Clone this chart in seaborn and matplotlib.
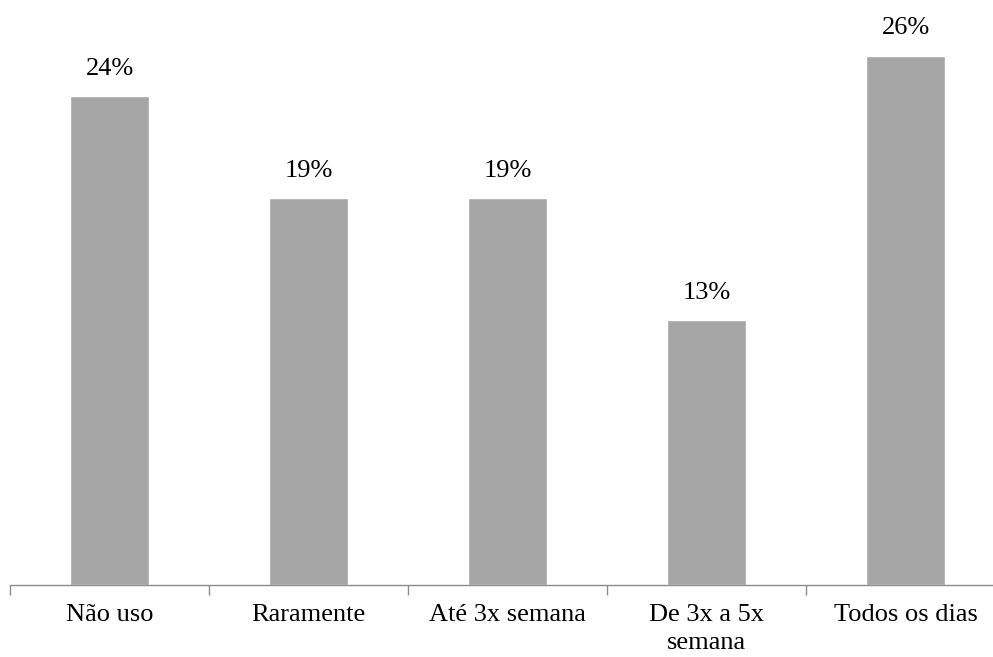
import matplotlib
matplotlib.use("Agg")
import matplotlib.pyplot as plt
import seaborn as sns
import pandas as pd
from matplotlib.ticker import FixedLocator

# Frequency of use (percent of respondents)
categories = ["Não uso", "Raramente", "Até 3x semana", "De 3x a 5x\nsemana", "Todos os dias"]
percentages = [24, 19, 19, 13, 26]

df = pd.DataFrame({"categoria": categories, "pct": percentages})

sns.set_theme(style="white")
plt.rcParams["font.family"] = ["Liberation Serif", "DejaVu Serif"]

fig = plt.figure(figsize=(9.93, 6.57), dpi=100)
ax = fig.add_axes([10 / 993, 1 - 585 / 657, 995 / 993, 570 / 657])

sns.barplot(data=df, x="categoria", y="pct", color="#A6A6A6", width=0.4,
            saturation=1, ax=ax)

ax.set_xlim(-0.5, len(categories) - 0.5)
ax.set_ylim(0, 28)

for i, v in enumerate(percentages):
    ax.annotate(f"{v}%", xy=(i, v), xytext=(0, 12), textcoords="offset points",
                ha="center", va="bottom", fontsize=19, color="black")

for side in ("top", "right", "left"):
    ax.spines[side].set_visible(False)
ax.spines["bottom"].set_color("#8C8C8C")
ax.spines["bottom"].set_linewidth(1.0)

ax.set_yticks([])
ax.set_xlabel("")
ax.set_ylabel("")
ax.tick_params(axis="x", which="major", length=0, pad=13.5, labelsize=19,
               labelcolor="black")
for lbl in ax.get_xticklabels():
    lbl.set_linespacing(1.38)
    lbl.set_verticalalignment("top")

ax.xaxis.set_minor_locator(FixedLocator([i - 0.5 for i in range(len(categories) + 1)]))
ax.tick_params(axis="x", which="minor", bottom=True, length=7, width=1.0,
               color="#8C8C8C", direction="out")

fig.savefig("out.png", dpi=100)
